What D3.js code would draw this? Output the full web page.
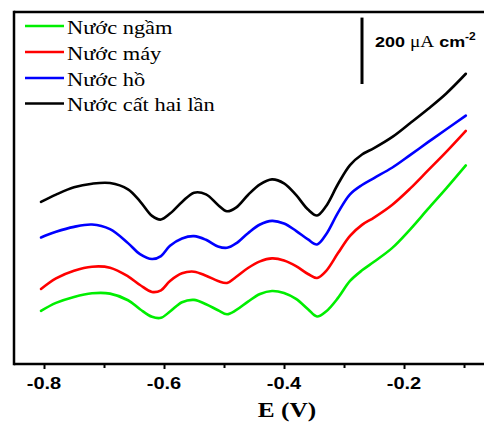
<!DOCTYPE html>
<html>
<head>
<meta charset="utf-8">
<script src="https://cdn.jsdelivr.net/npm/d3@7"></script>
<style>
  html, body { margin: 0; padding: 0; background: #fff; }
  svg { display: block; }
</style>
</head>
<body>
<svg id="chart" width="484" height="422"></svg>
<script>
// ---- data (potential E in V, current in µA cm⁻², curves offset as in the figure) ----
const potential = [-0.805, -0.78, -0.75, -0.72, -0.69, -0.66, -0.64, -0.62, -0.605, -0.59,
  -0.57, -0.55, -0.53, -0.51, -0.495, -0.48, -0.46, -0.44, -0.42, -0.40, -0.38, -0.36,
  -0.345, -0.33, -0.31, -0.29, -0.27, -0.25, -0.22, -0.19, -0.16, -0.13, -0.097];

const nuocNgam = [160, 184, 202, 213, 212, 192, 165, 142, 139, 158, 186, 193, 180, 162, 150, 162,
  188, 211, 220, 214, 196, 165, 143, 158, 199, 250, 282, 308, 349, 405, 467, 528, 598];
const nuocMay = [226, 258, 281, 293, 290, 264, 238, 217, 222, 250, 273, 278, 266, 250, 244, 262,
  289, 309, 318, 312, 295, 271, 259, 280, 334, 386, 419, 441, 479, 528, 583, 638, 702];
const nuocHo = [381, 398, 413, 420, 406, 364, 331, 316, 325, 356, 378, 385, 374, 354, 350, 363,
  394, 420, 431, 423, 401, 375, 360, 390, 456, 511, 539, 560, 591, 629, 668, 706, 748];
const nuocCat = [488, 510, 532, 543, 545, 526, 490, 446, 435, 453, 488, 516, 511, 479, 460, 471,
  509, 541, 556, 544, 509, 465, 447, 475, 542, 599, 631, 650, 683, 725, 768, 814, 874];

const seriesNames = ["Nước ngầm", "Nước máy", "Nước hồ", "Nước cất hai lần"];
const seriesColors = ["#00ee00", "#ff0000", "#0000ff", "#000000"];
const seriesValues = [nuocNgam, nuocMay, nuocHo, nuocCat];

const xTicks = [-0.8, -0.6, -0.4, -0.2];
const xMinorTicks = [-0.7, -0.5, -0.3, -0.1];
const scaleBarValue = 200; // µA cm⁻²

// ---- layout ----
const svg = d3.select("#chart");
const pLeft = 14, pRight = 490, pTop = 12, pBottom = 364;
const SERIF = "'Liberation Serif', 'Times New Roman', serif";
const SANS = "'Liberation Sans', Arial, sans-serif";

const x = d3.scaleLinear().domain([-0.85, -0.0567]).range([pLeft, pRight]);
const y = d3.scaleLinear().domain([0, 1060]).range([pBottom, pTop]);

// frame
svg.append("line").attr("x1", pLeft).attr("x2", pRight).attr("y1", pTop).attr("y2", pTop)
  .attr("stroke", "#000").attr("stroke-width", 2.5);
svg.append("line").attr("x1", pLeft).attr("x2", pLeft).attr("y1", pTop - 1.2).attr("y2", pBottom + 1.2)
  .attr("stroke", "#000").attr("stroke-width", 2.5);

// x axis
const xAxis = d3.axisBottom(x).tickValues(xTicks).tickSize(5).tickFormat(d3.format(".1f"));
const gx = svg.append("g").attr("transform", `translate(0,${pBottom})`).call(xAxis);
gx.select(".domain").attr("stroke-width", 2.5).attr("d", `M${pLeft},0H${pRight}`);
gx.selectAll(".tick line").attr("stroke-width", 2);
gx.selectAll(".tick text").remove();
const minorAxis = d3.axisBottom(x).tickValues(xMinorTicks).tickSize(4).tickFormat("");
const gm = svg.append("g").attr("transform", `translate(0,${pBottom})`).call(minorAxis);
gm.select(".domain").remove();
gm.selectAll(".tick line").attr("stroke-width", 2);

function stretchedText(px, py, str, opts) {
  return svg.append("text")
    .attr("transform", `translate(${px},${py}) scale(${opts.sx || 1},1)`)
    .style("font-family", opts.family)
    .attr("font-size", opts.size)
    .attr("font-weight", opts.weight || "normal")
    .attr("text-anchor", opts.anchor || "start")
    .attr("fill", "#000")
    .text(str);
}

// tick labels
xTicks.forEach(v => {
  stretchedText(x(v), 389, d3.format(".1f")(v).replace("−", "-"),
    { family: SANS, size: 16, weight: "bold", anchor: "middle", sx: 1.25 });
});

// axis title
stretchedText(287, 417, "E (V)",
  { family: SERIF, size: 22, weight: "bold", anchor: "middle", sx: 1.15 });

// curves
const line = d3.line()
  .x((d, i) => x(potential[i]))
  .y(d => y(d))
  .curve(d3.curveCatmullRom.alpha(0.5));

seriesValues.forEach((vals, k) => {
  svg.append("path").datum(vals)
    .attr("d", line)
    .attr("fill", "none")
    .attr("stroke", seriesColors[k])
    .attr("stroke-width", 2.6)
    .attr("stroke-linejoin", "round")
    .attr("stroke-linecap", "round");
});

// legend
const legendY = [26, 52, 78, 103.5];
seriesNames.forEach((name, k) => {
  svg.append("line").attr("x1", 25).attr("x2", 64)
    .attr("y1", legendY[k]).attr("y2", legendY[k])
    .attr("stroke", seriesColors[k]).attr("stroke-width", 2.6);
  stretchedText(67, legendY[k] + 7.5, name, { family: SERIF, size: 19, sx: 1.18 });
});

// scale bar (200 µA cm⁻²)
const barBottom = 84;
const barTop = barBottom - (y(0) - y(scaleBarValue));
svg.append("line").attr("x1", 362).attr("x2", 362).attr("y1", barTop).attr("y2", barBottom)
  .attr("stroke", "#000").attr("stroke-width", 3);

const sb = svg.append("text")
  .attr("transform", `translate(375,47) scale(1.2,1)`)
  .style("font-family", SANS)
  .attr("font-size", 15).attr("font-weight", "bold").attr("fill", "#000");
sb.append("tspan").text(scaleBarValue + " ");
sb.append("tspan").style("font-family", SERIF)
  .attr("font-weight", "normal").attr("font-size", 16).text("μA");
sb.append("tspan").text(" cm");
sb.append("tspan").attr("dy", -7).attr("font-size", 10).text("-2");
</script>
</body>
</html>
